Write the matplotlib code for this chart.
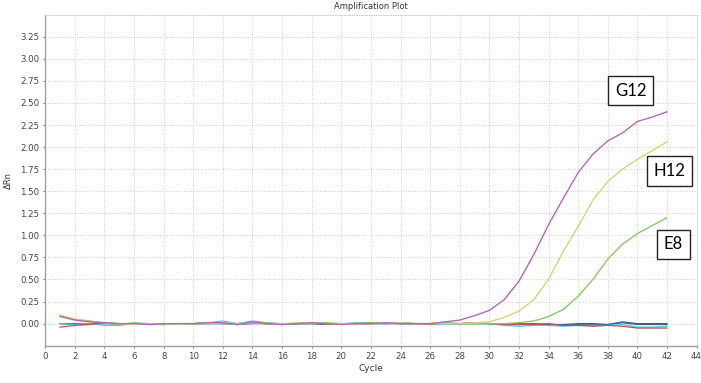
import matplotlib
matplotlib.use("Agg")
import matplotlib.pyplot as plt

cycles = list(range(1, 43))

g12 = [0.08, 0.04, 0.02, 0.01, 0.00, 0.00, -0.01, 0.00, 0.00, 0.00,
       0.01, 0.01, -0.01, 0.02, 0.00, -0.01, 0.00, 0.01, 0.00, -0.01,
       0.00, 0.00, 0.01, 0.00, 0.00, 0.00, 0.02, 0.04, 0.09, 0.15,
       0.27, 0.48, 0.78, 1.12, 1.42, 1.71, 1.92, 2.07, 2.16, 2.29,
       2.34, 2.40]
h12 = [0.10, 0.05, 0.02, 0.01, 0.00, -0.01, 0.00, 0.00, -0.01, 0.00,
       0.00, 0.01, 0.00, 0.01, 0.00, 0.00, 0.01, 0.01, 0.00, 0.00,
       -0.01, 0.00, 0.01, 0.01, 0.00, 0.00, 0.00, 0.00, 0.01, 0.02,
       0.07, 0.14, 0.27, 0.50, 0.82, 1.10, 1.40, 1.61, 1.75, 1.86,
       1.96, 2.06]
e8 = [0.09, 0.05, 0.03, 0.01, -0.01, 0.01, 0.00, -0.01, 0.00, 0.00,
      0.01, 0.00, -0.01, 0.01, 0.01, -0.01, 0.00, 0.00, 0.01, 0.00,
      0.00, 0.01, 0.01, 0.00, 0.00, 0.00, 0.01, 0.00, 0.00, 0.00,
      0.00, 0.01, 0.03, 0.08, 0.16, 0.31, 0.50, 0.73, 0.90, 1.02,
      1.11, 1.20]
neg_red = [-0.04, -0.02, -0.01, 0.01, 0.00, 0.00, -0.01, -0.01, 0.00, 0.00,
           0.01, 0.00, -0.01, 0.01, 0.00, 0.00, 0.00, 0.01, 0.00, 0.00,
           -0.01, 0.00, 0.01, 0.00, 0.00, -0.01, 0.01, 0.00, 0.01, 0.00,
           -0.01, -0.01, -0.01, 0.00, -0.02, -0.02, -0.03, -0.02, -0.03, -0.05,
           -0.05, -0.05]
neg_cyan = [0.00, -0.01, 0.00, -0.02, -0.02, 0.00, 0.00, 0.00, -0.01, 0.00,
            0.01, 0.03, 0.00, 0.03, 0.01, 0.00, 0.00, 0.01, 0.00, 0.00,
            0.01, 0.00, 0.00, 0.01, 0.00, -0.01, -0.01, 0.00, 0.00, 0.00,
            -0.02, -0.03, -0.02, -0.02, -0.03, -0.02, -0.02, -0.02, -0.01, -0.04,
            -0.04, -0.03]
neg_blue = [0.00, -0.01, 0.00, 0.01, -0.01, 0.00, 0.00, -0.01, 0.00, 0.00,
            0.00, 0.01, -0.01, 0.00, 0.00, -0.01, 0.00, 0.00, -0.01, 0.00,
            0.00, 0.01, 0.00, 0.00, 0.00, 0.00, 0.00, 0.00, 0.01, 0.00,
            0.00, -0.01, 0.00, -0.01, -0.01, 0.00, 0.00, -0.01, 0.02, 0.00,
            0.00, 0.00]
neg_dark = [0.00, 0.00, -0.01, 0.00, 0.00, 0.00, 0.00, 0.00, 0.00, 0.00,
            0.00, 0.00, 0.00, 0.01, 0.00, 0.00, 0.00, 0.00, 0.00, 0.00,
            0.00, 0.00, 0.00, 0.01, 0.00, 0.00, 0.00, 0.00, 0.00, 0.00,
            0.00, 0.00, -0.01, -0.01, -0.02, -0.01, -0.01, -0.01, 0.01, -0.01,
            -0.01, -0.01]

labels = [("G12", 39.56, 2.64), ("H12", 42.16, 1.73), ("E8", 42.43, 0.90)]

fig = plt.figure(figsize=(7.01, 3.83), dpi=100)
ax = fig.add_axes([0.0646, 0.0974, 0.9290, 0.8642])

ax.plot(cycles, neg_dark, color="#506070", lw=0.9)
ax.plot(cycles, neg_blue, color="#3a5aa8", lw=0.9)
ax.plot(cycles, neg_cyan, color="#50c8e0", lw=0.9)
ax.plot(cycles, neg_red, color="#c05050", lw=0.9)
ax.plot(cycles, e8, color="#88c868", lw=1.0)
ax.plot(cycles, h12, color="#d8d278", lw=1.0)
ax.plot(cycles, g12, color="#b468b8", lw=1.0)

ax.set_xlim(0, 44)
ax.set_ylim(-0.25, 3.5)
ax.set_xticks(range(0, 45, 2))
yt = [i * 0.25 for i in range(0, 14)]
ax.set_yticks(yt)
ax.set_yticklabels([f"{v:.2f}" for v in yt])
ax.tick_params(labelsize=6.2, colors="#444444", length=1.5, width=0.5, pad=3)
ax.grid(True, linestyle=(0, (1, 1.5)), color="#cfcfcf", lw=0.7)
for s in ["left", "bottom"]:
    ax.spines[s].set_color("#a0a0a0")
    ax.spines[s].set_linewidth(1.0)
for s in ["top", "right"]:
    ax.spines[s].set_color("#d0d0d0")
    ax.spines[s].set_linestyle((0, (1, 1.5)))
    ax.spines[s].set_linewidth(0.7)

ax.set_title("Amplification Plot", fontsize=6, color="#333333", pad=4)
ax.set_xlabel("Cycle", fontsize=6.5, color="#333333", labelpad=2)
ax.set_ylabel("ΔRn", fontsize=6, color="#333333", labelpad=5)

for txt, cx, cy in labels:
    ax.text(cx, cy, txt, fontsize=12, family="Lato", ha="center", va="center",
            color="black",
            bbox=dict(boxstyle="square,pad=0.4", fc="white", ec="#222222", lw=1.0))

fig.savefig("out.png", dpi=100)
